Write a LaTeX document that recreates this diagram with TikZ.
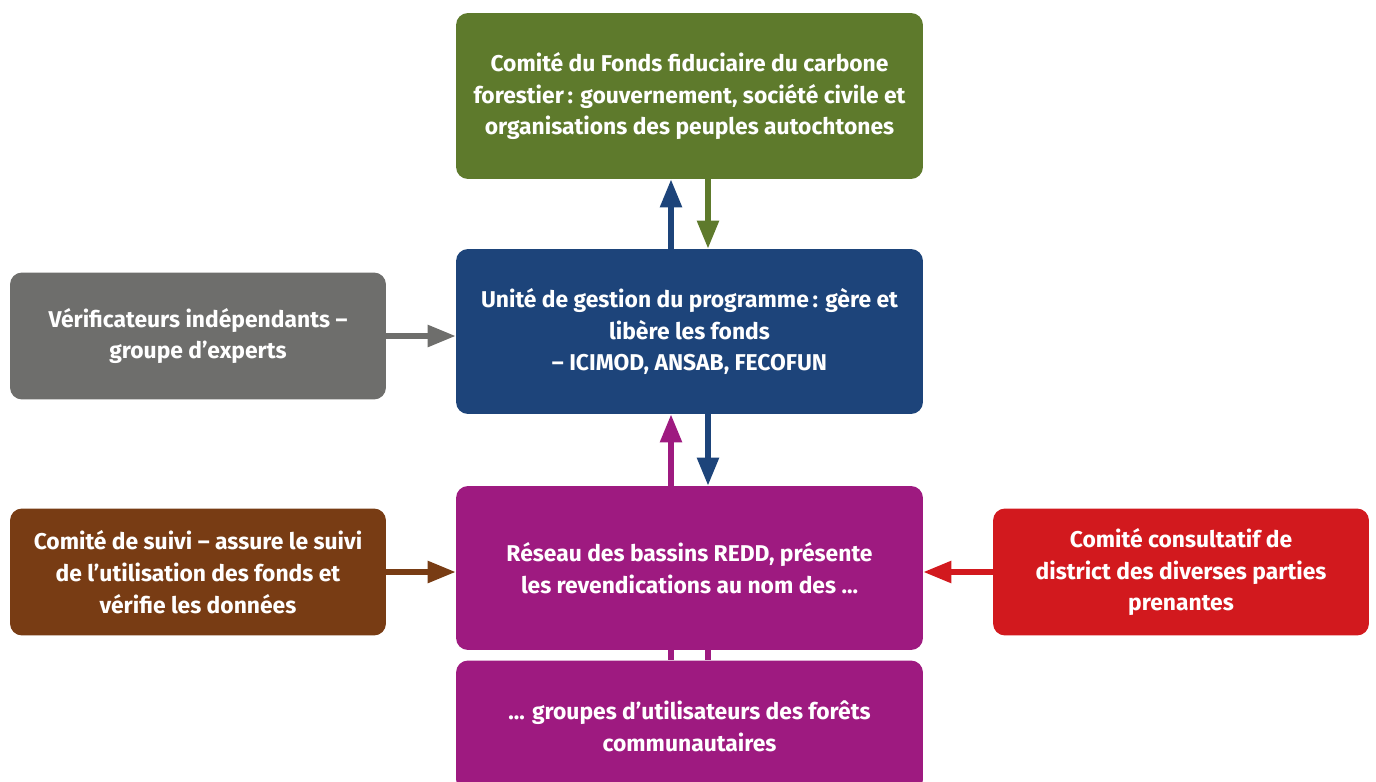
\documentclass[tikz,border=0pt]{standalone}
\usepackage{fontspec}
\setmainfont{Fira Sans}
\usetikzlibrary{positioning,arrows.meta,calc}
\definecolor{fondsgreen}{RGB}{94,122,44}
\definecolor{progblue}{RGB}{29,68,122}
\definecolor{verifgray}{RGB}{110,110,108}
\definecolor{reseaupurple}{RGB}{158,26,128}
\definecolor{suivibrown}{RGB}{120,60,20}
\definecolor{consultred}{RGB}{210,25,30}

\begin{document}
\begin{tikzpicture}[x=0.02cm,y=-0.02cm,font=\fontsize{13}{18.2}\selectfont\bfseries]
\tikzstyle{box} = [rounded corners=0.24cm,inner sep=0pt,text=white,align=center]
\tikzstyle{wide} = [box,minimum width=9.34cm]
\tikzstyle{side} = [box,minimum width=7.52cm,minimum height=2.54cm]
\tikzstyle{arr} = [line width=3.1pt,-{Triangle[length=0.56cm,width=0.42cm]}]
\useasboundingbox (0,0) rectangle (1376,781);
\node[wide,fill=fondsgreen,minimum height=3.32cm] (fonds) at (689.5,96)
  {Comité du Fonds fiduciaire du carbone\\ forestier\,: gouvernement, société civile et\\ organisations des peuples autochtones};
\node[wide,fill=progblue,minimum height=3.30cm] (prog) at (689.5,331.5)
  {Unité de gestion du programme\,: gère et\\ libère les fonds\\ – ICIMOD, ANSAB, FECOFUN};
\node[wide,fill=reseaupurple,minimum height=3.28cm] (reseau) at (689.5,568)
  {Réseau des bassins REDD, présente\\ les revendications au nom des ...};
\node[wide,fill=reseaupurple,minimum height=2.62cm,text depth=0pt] (groupes) at (689.5,726)
  {... groupes d’utilisateurs des forêts\\ communautaires};
\node[side,fill=verifgray] (verif) at (198,336)
  {Vérificateurs indépendants –\\ groupe d’experts};
\node[side,fill=suivibrown] (suivi) at (198,572)
  {Comité de suivi – assure le suivi\\ de l’utilisation des fonds et\\ vérifie les données};
\node[side,fill=consultred] (consult) at (1181,572)
  {Comité consultatif de\\ district des diverses parties\\ prenantes};
% links up and down
\draw[arr,progblue] ([xshift=-0.37cm]prog.north) -- ([xshift=-0.37cm]fonds.south);
\draw[arr,fondsgreen] ([xshift=0.37cm]fonds.south) -- ([xshift=0.37cm]prog.north);
\draw[arr,reseaupurple] ([xshift=-0.37cm]reseau.north) -- ([xshift=-0.37cm]prog.south);
\draw[arr,progblue] ([xshift=0.37cm]prog.south) -- ([xshift=0.37cm]reseau.north);
\draw[line width=3.1pt,reseaupurple] ([xshift=-0.37cm]reseau.south) -- ([xshift=-0.37cm]groupes.north);
\draw[line width=3.1pt,reseaupurple] ([xshift=0.37cm]reseau.south) -- ([xshift=0.37cm]groupes.north);
% side links
\draw[arr,verifgray] (verif.east) -- (verif.east -| prog.west);
\draw[arr,suivibrown] (suivi.east) -- (suivi.east -| reseau.west);
\draw[arr,consultred] (consult.west) -- (consult.west -| reseau.east);
\end{tikzpicture}
\end{document}
